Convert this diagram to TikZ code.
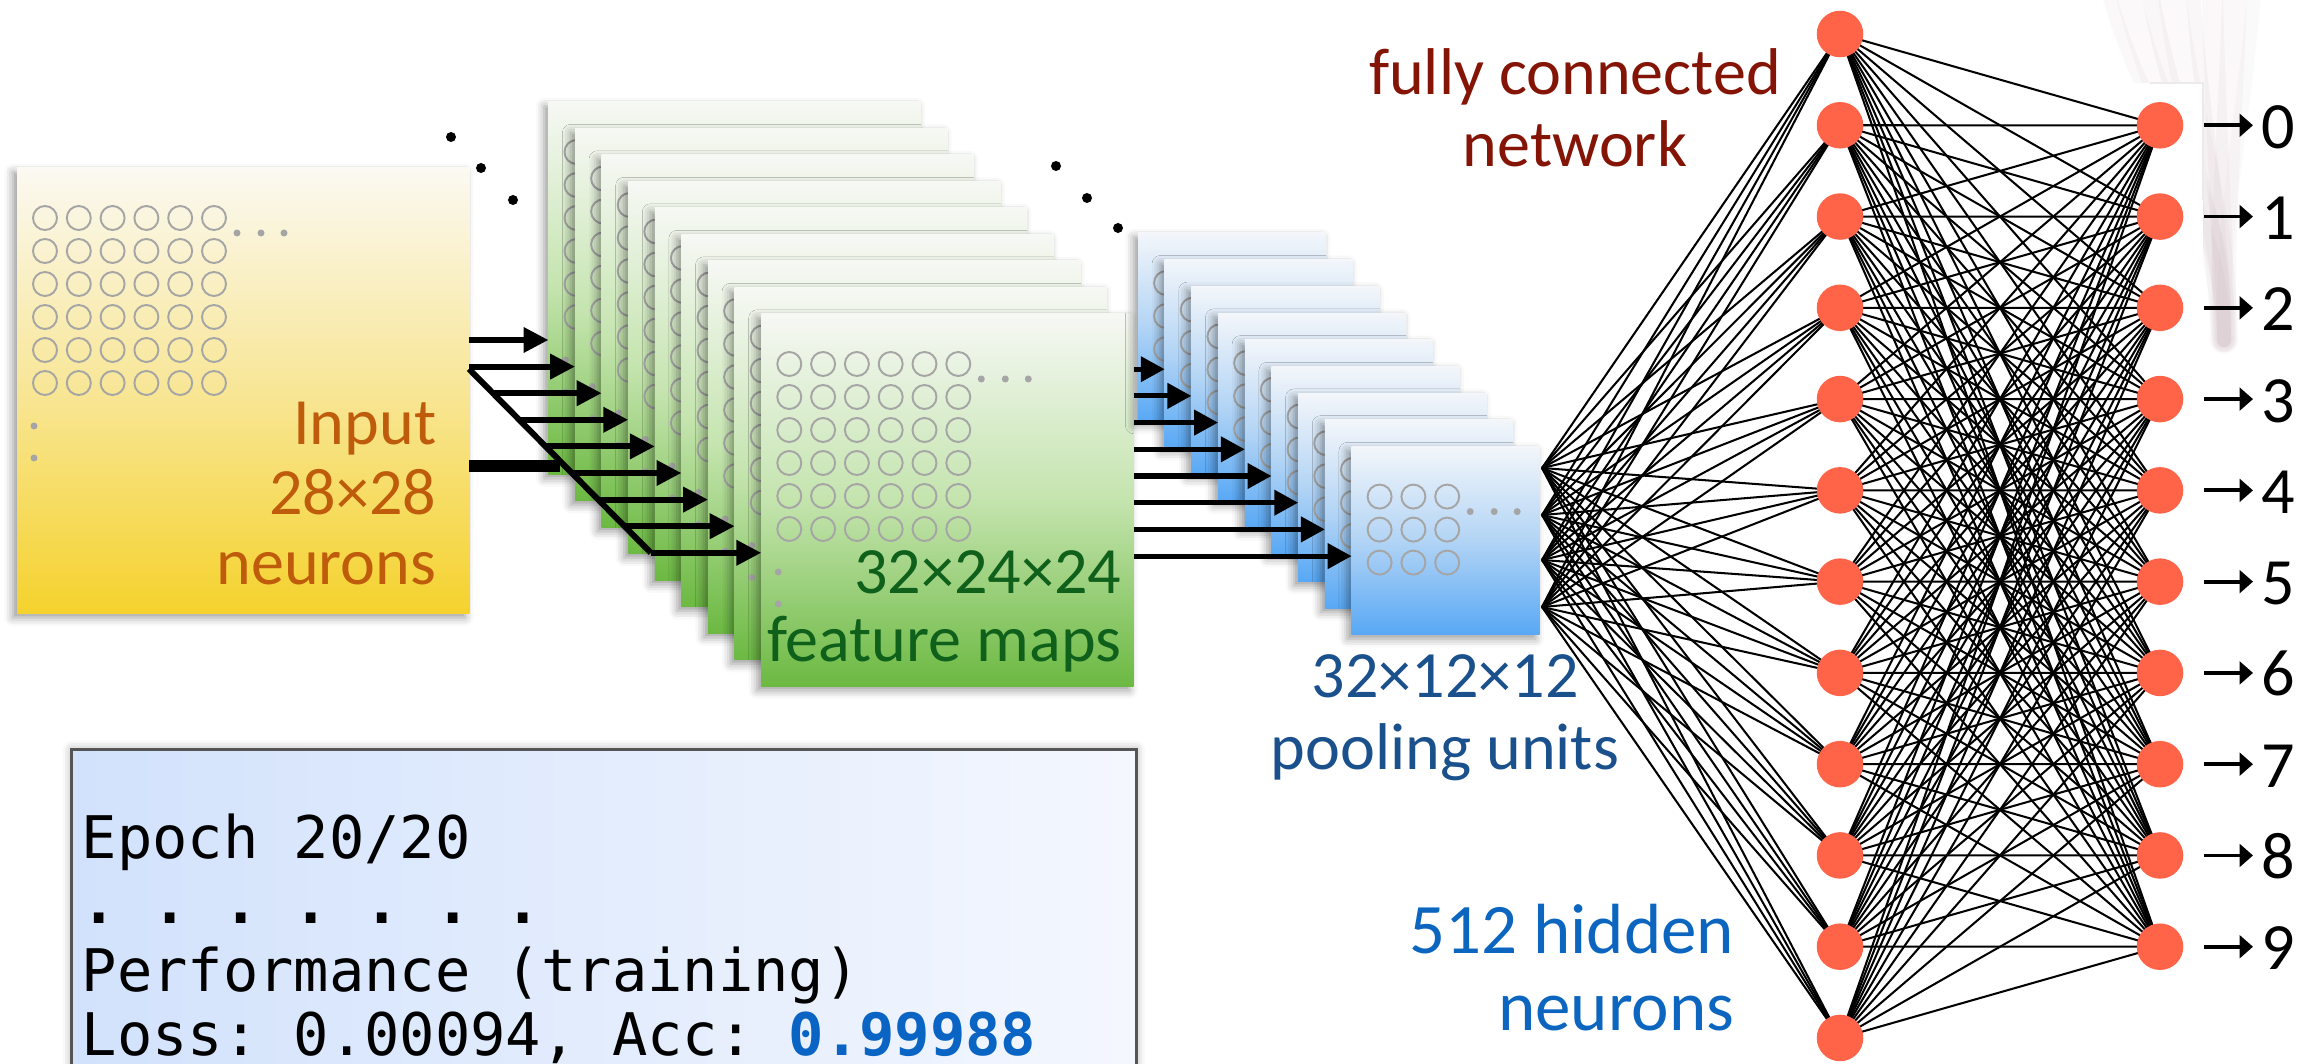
\documentclass[tikz,border=0pt]{standalone}
\usepackage{fontspec}
\setmainfont{Carlito}
\newfontfamily\codefont{DejaVu Sans Mono}
\usetikzlibrary{arrows.meta,shadows.blur,calc}

\definecolor{inputTop}{RGB}{251,249,242}
\definecolor{inputMid}{RGB}{248,230,150}
\definecolor{inputBot}{RGB}{245,210,45}
\definecolor{greenTop}{RGB}{246,248,244}
\definecolor{greenMid}{RGB}{196,228,174}
\definecolor{greenBot}{RGB}{108,185,66}
\definecolor{blueTop}{RGB}{243,246,250}
\definecolor{blueMid}{RGB}{178,212,245}
\definecolor{blueBot}{RGB}{88,168,245}
\definecolor{unitGray}{RGB}{165,165,165}
\definecolor{inputText}{RGB}{190,92,12}
\definecolor{featText}{RGB}{14,96,26}
\definecolor{poolText}{RGB}{26,80,140}
\definecolor{fcText}{RGB}{132,20,6}
\definecolor{hidText}{RGB}{12,102,192}
\definecolor{neuron}{RGB}{255,99,72}
\definecolor{accBlue}{RGB}{10,100,196}
\definecolor{boxLeft}{RGB}{210,226,252}
\definecolor{boxRight}{RGB}{244,247,254}
\definecolor{boxEdge}{RGB}{85,85,85}
\definecolor{streak}{RGB}{180,150,158}

% grid of units drawn on a map sheet: #1 sheet node, #2 last index, #3 vertical dots
\newcommand\drawunits[3]{%
  \begin{scope}[shift={(#1.north west)}]
    \foreach \c in {0,...,#2}{\foreach \r in {0,...,#2}{
      \draw[unit] ({28+33.8*\c},{50+33*\r}) circle[radius=12];}}
    \foreach \d in {23,47,70}{\fill[unitGray] ({28+33.8*#2+\d},65) circle[radius=3.5];}
    \ifnum#3=1
      \fill[unitGray] (17,258) circle[radius=3.5];
      \fill[unitGray] (17,290) circle[radius=3.5];
    \fi
  \end{scope}}

\begin{document}
\frenchspacing
\begin{tikzpicture}[x=0.01cm, y=-0.01cm,
  sheet/.style={rectangle, inner sep=0pt, outer sep=0pt, anchor=north west,
    blur shadow={shadow xshift=-1.2pt, shadow yshift=-1.2pt, shadow blur radius=2.4pt, shadow opacity=40}},
  inputsheet/.style={sheet, minimum width=4.52cm, minimum height=4.45cm,
    top color=inputTop, bottom color=inputBot, middle color=inputMid},
  featsheet/.style={sheet, minimum size=3.72cm,
    top color=greenTop, bottom color=greenBot, middle color=greenMid},
  poolsheet/.style={sheet, minimum size=1.88cm,
    top color=blueTop, bottom color=blueBot, middle color=blueMid},
  unit/.style={draw=unitGray, line width=0.55pt},
  maparrow/.style={line width=1.7pt, -{Triangle[length=7.1pt,width=6.9pt]}},
  poolarrow/.style={line width=1.45pt, -{Triangle[length=6.8pt,width=7pt]}},
  outarrow/.style={line width=1.1pt, -{Triangle[length=3.8pt,width=6.4pt]}},
  wire/.style={line width=0.58pt},
  neuronnode/.style={circle, fill=neuron, inner sep=0pt, minimum size=0.465cm},
  captext/.style={inner sep=0pt, font=\fontsize{18.8pt}{20pt}\selectfont},
  bigtext/.style={inner sep=0pt, font=\fontsize{20.2pt}{22pt}\selectfont},
  codetext/.style={inner sep=0pt, anchor=base west, font=\fontsize{16.7pt}{20pt}\codefont\frenchspacing},
]
\useasboundingbox (0,0) rectangle (2311,1064);
\clip (0,0) rectangle (2311,1064);

% faint brush strokes of the slide backdrop, top right
\foreach \sx/\lw/\op in {2105/4/.07, 2125/7/.06, 2148/5/.08, 2170/8/.06, 2192/4/.08,
                          2212/6/.07, 2235/7/.07, 2255/4/.05}{
  \draw[streak, line width=\lw pt, opacity=\op, line cap=round]
    (\sx,-20) .. controls ({\sx+(2222-\sx)*0.3},120) and (2222,200) .. (2224,340);}
\fill[white] (1990,83) rectangle (2203,1064);
\draw[white!92!black, line width=0.4pt] (2150,83) -- (2203,83) -- (2203,200);

% input layer
\node[inputsheet] (input) at (17,168) {};
\drawunits{input}{5}{1}
\node[captext, anchor=base east, text=inputText] (inA) at (437,445) {Input};
\node[captext, anchor=base east, text=inputText] (inB) at (437,515) {28×28};
\node[captext, anchor=base east, text=inputText] (inC) at (437,585) {neurons};

% convolutional feature maps
\foreach \i in {0,...,8}{
  \node[featsheet] (g\i) at ({548.5+26.6*\i},{102+26.5*\i}) {};
  \drawunits{g\i}{5}{1}
}
\node[captext, anchor=base east, text=featText] (fmA) at (1122,594) {32×24×24};
\node[captext, anchor=base east, text=featText] (fmB) at (1122,662) {feature maps};

% input -> feature maps
\foreach \k in {0,...,8}{
  \pgfmathsetmacro\yy{340+26.6*\k}
  \pgfmathsetmacro\xx{\k<2 ? 469 : 469+\yy-371}
  \coordinate (ms\k) at (\xx,\yy);
}
\coordinate (dtop) at (469,369);
\coordinate (barend) at (560,466);
\draw[line width=1.7pt] (dtop) -- (ms8);
\draw[line width=3.4pt] (input.east |- barend) -- (barend);
\foreach \k in {0,...,8}{\draw[maparrow] (ms\k) -- (ms\k -| g\k.west);}

% ellipsis dots between the stacks
\foreach \p in {(451,137),(481,168),(513,200),(1056,166),(1087,198),(1118,228)}
  \fill \p circle[radius=5];

% pooling maps
\foreach \j in {0,...,8}{
  \node[poolsheet] (b\j) at ({1138+26.7*\j},{233+26.7*\j}) {};
  \drawunits{b\j}{2}{0}
}
\foreach \j in {1,...,8}{
  \coordinate (ps\j) at (1134,{342.5+26.7*\j});
  \draw[poolarrow] (ps\j) -- (ps\j -| b\j.west);
}
\node[captext, anchor=base, text=poolText] (plA) at (1445,698) {32×12×12};
\node[captext, anchor=base, text=poolText] (plB) at (1445,769) {pooling units};

% fully connected network: wires first, neurons on top
\foreach \c/\y in {1/468,2/515,3/560,4/607}{\coordinate (cv\c) at (1542,\y);}
\foreach \k in {0,...,11}{\coordinate (hc\k) at (1840,{34+91.27*\k});}
\foreach \m in {0,...,9}{\coordinate (oc\m) at (2160,{125.3+91.27*\m});}
\foreach \k in {0,...,11}{
  \foreach \c in {1,...,4}{\draw[wire] (cv\c) -- (hc\k);}
  \foreach \m in {0,...,9}{\draw[wire] (hc\k) -- (oc\m);}
}
\foreach \k in {0,...,11}{\node[neuronnode] (h\k) at (hc\k) {};}
\foreach \m in {0,...,9}{
  \node[neuronnode] (o\m) at (oc\m) {};
  \coordinate (os\m) at ($(o\m.center)+(44,0)$);
  \coordinate (oe\m) at ($(o\m.center)+(93,0)$);
  \draw[outarrow] (os\m) -- (oe\m);
  \node[captext, anchor=base west] (d\m) at ($(o\m.center)+(101,23)$) {\m};
}
\node[captext, anchor=base, text=fcText] (fcA) at (1575,95) {fully connected};
\node[captext, anchor=base, text=fcText] (fcB) at (1575,167) {network};
\node[bigtext, anchor=base east, text=hidText] (hnA) at (1735,953) {512 hidden};
\node[bigtext, anchor=base east, text=hidText] (hnB) at (1735,1030) {neurons};

% training log panel
\node[anchor=north west, inner sep=0pt, minimum width=10.64cm, minimum height=4cm,
      draw=boxEdge, line width=0.85pt, left color=boxLeft, right color=boxRight,
      blur shadow={shadow xshift=0pt, shadow yshift=0pt, shadow blur radius=2.5pt, shadow opacity=35}]
      (logbox) at (70,748) {};
\node[codetext] (lgA) at (81,858) {Epoch 20/20};
\node[codetext] (lgB) at (81,923) {\bfseries . . . . . . .};
\node[codetext] (lgC) at (81,991) {Performance (training)};
\node[codetext] (lgD) at (81,1055) {Loss: 0.00094, Acc: \textcolor{accBlue}{\bfseries 0.99988}};
\end{tikzpicture}
\end{document}
